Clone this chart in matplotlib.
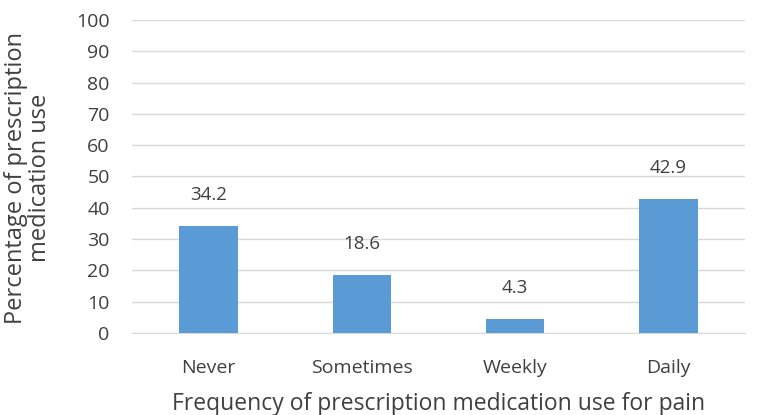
import numpy as np
import matplotlib.pyplot as plt

plt.rcParams['font.family'] = ['Open Sans', 'DejaVu Sans']

categories = ['Never', 'Sometimes', 'Weekly', 'Daily']
percentages = [34.2, 18.6, 4.3, 42.9]
yticks = list(range(0, 101, 10))

fig = plt.figure(figsize=(7.58, 4.15), dpi=100)
ax = fig.add_axes([0.174, 0.198, 0.809, 0.754])

x = np.arange(len(categories))
bars = ax.bar(x, percentages, width=0.38, color='#5B9BD5', zorder=3)
for b, v in zip(bars, percentages):
    ax.text(b.get_x() + b.get_width() / 2, v + 7, str(v),
            ha='center', va='bottom', fontsize=13.5, color='#404040')

ax.set_xlim(-0.5, len(categories) - 0.5)
ax.set_ylim(0, 100)
ax.set_yticks(yticks)
ax.set_xticks(x)
ax.set_xticklabels(categories)
ax.tick_params(axis='both', length=0, labelsize=14, colors='#404040')
ax.tick_params(axis='y', pad=16)
ax.tick_params(axis='x', pad=19)
ax.grid(axis='y', color='#D9D9D9', linewidth=1.0, zorder=0)
for s in ['top', 'right', 'left']:
    ax.spines[s].set_visible(False)
ax.spines['bottom'].set_color('#D9D9D9')

ax.set_xlabel('Frequency of prescription medication use for pain',
              fontsize=16.5, color='#404040')
ax.xaxis.set_label_coords(0.5, -0.19)
ax.set_ylabel('Percentage of prescription\nmedication use',
              fontsize=17, color='#404040', linespacing=1.0)
ax.yaxis.set_label_coords(-0.13, 0.495)

fig.savefig('out.png', dpi=100)
